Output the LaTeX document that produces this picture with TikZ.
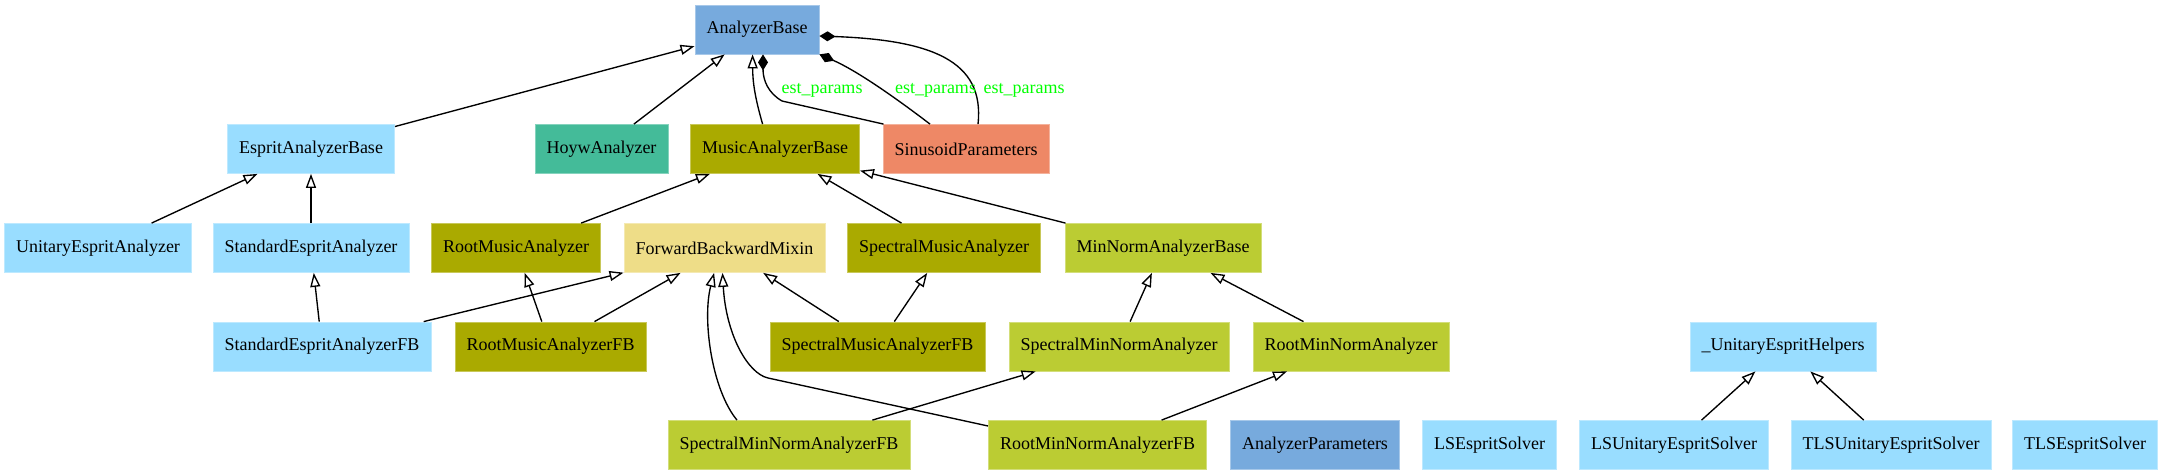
\documentclass[tikz,border=0pt]{standalone}
\usepackage{fontspec}
\setmainfont{Liberation Serif}
\usetikzlibrary{arrows.meta, positioning, calc}

\definecolor{abaseblue}{HTML}{77AADD}
\definecolor{espritcyan}{HTML}{99DDFF}
\definecolor{hoywmint}{HTML}{44BB99}
\definecolor{musicolive}{HTML}{AAAA00}
\definecolor{sinusorange}{HTML}{EE8866}
\definecolor{mixinyellow}{HTML}{EEDD88}
\definecolor{minnormpear}{HTML}{BBCC33}
\definecolor{labelgreen}{HTML}{00FF00}

\begin{document}
\begin{tikzpicture}[x=0.5pt, y=-0.5pt,
    every node/.style={font=\fontsize{9}{11}\selectfont},
    clsbox/.style={rectangle, fill=#1, draw=#1!65!white, line width=0.4pt, inner xsep=5.8pt, inner ysep=0pt, minimum height=24.5pt},
    basebox/.style={clsbox=abaseblue},
    espritbox/.style={clsbox=espritcyan},
    hoywbox/.style={clsbox=hoywmint},
    musicbox/.style={clsbox=musicolive},
    parambox/.style={clsbox=sinusorange},
    mixinbox/.style={clsbox=mixinyellow},
    minnormbox/.style={clsbox=minnormpear},
    elabel/.style={text=labelgreen, inner sep=0pt},
    inherit/.style={-{Triangle[open, length=7pt, width=5pt]}, line width=0.68pt},
    compose/.style={-{Diamond[length=8pt, width=5pt]}, line width=0.68pt}
]
    % Canvas
    \path[fill=white] (0,0) rectangle (2163,475);

    % Base classes
    \node (abase) [basebox] at (757, 29.5) {AnalyzerBase};

    \node (esprit) [espritbox] at (311, 149) {EspritAnalyzerBase};
    \node (hoyw) [hoywbox] at (601.5, 149) {HoywAnalyzer};
    \node (music) [musicbox] at (775, 149) {MusicAnalyzerBase};
    \node (sinus) [parambox] at (966, 149) {SinusoidParameters};

    % Concrete analyzers
    \node (unitary) [espritbox] at (98, 248) {UnitaryEspritAnalyzer};
    \node (standard) [espritbox] at (311, 248) {StandardEspritAnalyzer};
    \node (rootmusic) [musicbox] at (516, 248) {RootMusicAnalyzer};
    \node (fbmixin) [mixinbox] at (724.5, 248) {ForwardBackwardMixin};
    \node (spectralmusic) [musicbox] at (944, 248) {SpectralMusicAnalyzer};
    \node (minnorm) [minnormbox] at (1163, 248) {MinNormAnalyzerBase};

    % Forward-backward variants
    \node (standardfb) [espritbox] at (322, 346.5) {StandardEspritAnalyzerFB};
    \node (rootmusicfb) [musicbox] at (550.5, 346.5) {RootMusicAnalyzerFB};
    \node (spectralmusicfb) [musicbox] at (877.5, 346.5) {SpectralMusicAnalyzerFB};
    \node (spectralmn) [minnormbox] at (1119, 346.5) {SpectralMinNormAnalyzer};
    \node (rootmn) [minnormbox] at (1351, 346.5) {RootMinNormAnalyzer};
    \node (helpers) [espritbox] at (1783, 346.5) {\_UnitaryEspritHelpers};

    \node (spectralmnfb) [minnormbox] at (789, 445) {SpectralMinNormAnalyzerFB};
    \node (rootmnfb) [minnormbox] at (1097.5, 445) {RootMinNormAnalyzerFB};

    % Stand-alone helpers
    \node (aparams) [basebox] at (1315, 445) {AnalyzerParameters};
    \node (lsesprit) [espritbox] at (1489.5, 445) {LSEspritSolver};
    \node (lsunitary) [espritbox] at (1674, 445) {LSUnitaryEspritSolver};
    \node (tlsunitary) [espritbox] at (1891, 445) {TLSUnitaryEspritSolver};
    \node (tlsesprit) [espritbox] at (2085, 445) {TLSEspritSolver};

    % Inheritance to AnalyzerBase
    \draw [inherit] (esprit) -- (abase);
    \draw [inherit] (hoyw) -- (abase);
    \draw [inherit] ([xshift=-6.2pt]music.north) to[bend left=8] ([xshift=-2.2pt]abase.south);

    % Composition (est_params)
    \draw [compose] ([xshift=0.5pt]sinus.north west) -- (782,101) .. controls (768,93) and (763,80) .. ([xshift=3pt]abase.south);
    \draw [compose] ([xshift=-18pt]sinus.north) .. controls (905,105) and (860,72) .. (abase.south east);
    \draw [compose] ([xshift=6pt]sinus.north) .. controls (985,60) and (930,40) .. ([yshift=-3.25pt]abase.east);
    \node (lbla) [elabel] at (822, 90) {est\_params};
    \node (lblb) [elabel] at (935.5, 90) {est\_params};
    \node (lblc) [elabel] at (1024, 90) {est\_params};

    % Esprit family
    \draw [inherit] (unitary) -- (esprit);
    \draw [inherit] (standard) -- (esprit);
    \draw [inherit] (standardfb) -- (standard);
    \draw [inherit] (standardfb) -- (fbmixin);

    % Music family
    \draw [inherit] (rootmusic) -- (music);
    \draw [inherit] (spectralmusic) -- (music);
    \draw [inherit] (minnorm) -- (music);
    \draw [inherit] (rootmusicfb) -- (rootmusic);
    \draw [inherit] (rootmusicfb) -- (fbmixin);
    \draw [inherit] (spectralmusicfb) -- (fbmixin);
    \draw [inherit] (spectralmusicfb) -- (spectralmusic);

    % MinNorm family
    \draw [inherit] (spectralmn) -- (minnorm);
    \draw [inherit] (rootmn) -- (minnorm);
    \draw [inherit] ([xshift=-26pt]spectralmnfb.north) .. controls (712,390) and (702,320) .. ([xshift=-5.2pt]fbmixin.south);
    \draw [inherit] (spectralmnfb) -- (spectralmn);
    \draw [inherit] ([yshift=9.5pt]rootmnfb.west) -- (768,378) .. controls (748,373.6) and (726,335) .. ([xshift=-1pt]fbmixin.south);
    \draw [inherit] (rootmnfb) -- (rootmn);

    % Unitary solvers
    \draw [inherit] (lsunitary) -- (helpers);
    \draw [inherit] (tlsunitary) -- (helpers);

\end{tikzpicture}
\end{document}
